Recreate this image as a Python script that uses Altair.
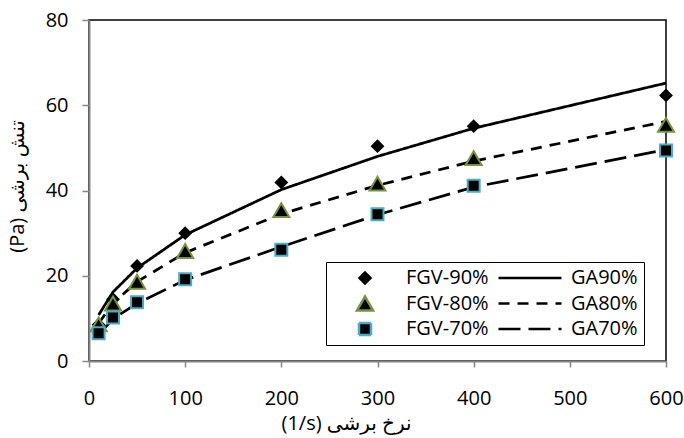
import altair as alt
import pandas as pd

# ---- data ----
shear_rate = [10, 25, 50, 100, 200, 300, 400, 600]

fgv90 = [8.5, 14.5, 22.3, 30.0, 41.9, 50.4, 55.1, 62.3]
fgv80 = [8.6, 13.5, 18.6, 25.8, 35.4, 41.6, 47.6, 55.4]
fgv70 = [6.5, 10.2, 13.8, 19.2, 26.1, 34.4, 41.1, 49.4]

ga90 = [10.8, 16.2, 21.8, 29.6, 40.2, 48.0, 54.6, 65.2]
ga80 = [8.8, 13.6, 18.6, 25.4, 34.5, 41.2, 46.9, 56.2]
ga70 = [6.2, 9.9, 13.5, 19.0, 26.8, 34.3, 40.8, 49.6]

point_series = ["FGV-90%", "FGV-80%", "FGV-70%"]
line_series = ["GA90%", "GA80%", "GA70%"]
# the legend grid is filled column by column
legend_order = point_series + line_series

x_ticks = [0, 100, 200, 300, 400, 500, 600]
y_ticks = [0, 20, 40, 60, 80]

x_title = "(1/s) نرخ برشی"
y_title = "(Pa) تنش برشی"

# ---- tables ----
pts = pd.DataFrame(
    [
        {"x": xv, "y": yv, "series": s}
        for s, vals in zip(point_series, [fgv90, fgv80, fgv70])
        for xv, yv in zip(shear_rate, vals)
    ]
)
lns = pd.DataFrame(
    [
        {"x": xv, "y": yv, "series": s}
        for s, vals in zip(line_series, [ga90, ga80, ga70])
        for xv, yv in zip(shear_rate, vals)
    ]
)

FONT = "Open Sans, DejaVu Sans, sans-serif"
FS = 20
LINE_PATH = "M-1,0H1"

shape_scale = alt.Scale(
    domain=legend_order,
    range=["diamond", "triangle-up", "square", LINE_PATH, LINE_PATH, LINE_PATH],
)
size_scale = alt.Scale(
    type="ordinal", domain=legend_order, range=[121, 256, 144, 3969, 3969, 3969]
)
fill_scale = alt.Scale(
    domain=legend_order,
    range=["black", "black", "black", "transparent", "transparent", "transparent"],
)
stroke_scale = alt.Scale(
    domain=legend_order,
    range=["black", "#77933C", "#4BACC6", "black", "black", "black"],
)
dash_scale = alt.Scale(
    domain=legend_order,
    range=[[1, 0], [1, 0], [1, 0], [1, 0], [11, 8], [22, 8]],
)

legend = alt.Legend(
    title=None,
    orient="none",
    legendX=237,
    legendY=242,
    columns=2,
    columnPadding=8,
    rowPadding=5.5,
    clipHeight=20,
    labelFont=FONT,
    labelFontSize=FS,
    labelColor="black",
    labelOffset=8,
    labelLimit=0,
    symbolStrokeWidth=2.5,
    padding=6,
    strokeColor="black",
    fillColor="white",
    labelExpr="indexof(datum.label, 'GA') === 0 ? datum.label + '\u00a0\u00a0' : datum.label",
)

x_enc = alt.X(
    "x:Q",
    scale=alt.Scale(domain=[0, 600], nice=False, zero=False),
    axis=alt.Axis(
        values=x_ticks,
        format="d",
        grid=False,
        domainColor="#868686",
        domainWidth=2,
        tickColor="#868686",
        tickWidth=1.5,
        tickSize=6,
        labelPadding=21,
        labelFont=FONT,
        labelFontSize=FS,
        labelColor="black",
        labelFlush=False,
        title=x_title,
        titleFont=FONT,
        titleFontSize=FS,
        titleFontWeight="normal",
        titleColor="black",
        titleX=257,
        titleY=62,
        titleAlign="center",
        titleBaseline="middle",
    ),
)
y_enc = alt.Y(
    "y:Q",
    scale=alt.Scale(domain=[0, 80], nice=False),
    axis=alt.Axis(
        values=y_ticks,
        grid=False,
        domainColor="#868686",
        domainWidth=2,
        tickColor="#868686",
        tickWidth=1.5,
        tickSize=7,
        labelPadding=14,
        labelFont=FONT,
        labelFontSize=FS,
        labelColor="black",
        labelFlush=False,
        title=y_title,
        titleFont=FONT,
        titleFontSize=FS,
        titleFontWeight="normal",
        titleColor="black",
        titleAngle=270,
        titleX=-72,
        titleY=166,
        titleAlign="center",
        titleBaseline="middle",
    ),
)

lines = alt.Chart(lns).mark_line(strokeWidth=2.75).encode(
    x=x_enc,
    y=y_enc,
    stroke=alt.Stroke("series:N", scale=stroke_scale, legend=legend),
    strokeDash=alt.StrokeDash("series:N", scale=dash_scale, legend=legend),
)

points = alt.Chart(pts).mark_point(filled=True, opacity=1, strokeWidth=2).encode(
    x=x_enc,
    y=y_enc,
    shape=alt.Shape("series:N", scale=shape_scale, legend=legend),
    size=alt.Size("series:N", scale=size_scale, legend=legend),
    fill=alt.Fill("series:N", scale=fill_scale, legend=legend),
    stroke=alt.Stroke("series:N", scale=stroke_scale, legend=legend),
)

chart = (
    alt.layer(lines, points)
    .properties(
        width=577,
        height=341,
        autosize=alt.AutoSizeParams(type="none"),
        padding={"left": 89, "top": 20, "right": 18, "bottom": 77},
        background="white",
    )
    .configure_view(stroke="black", strokeWidth=1.5)
)

chart.save("out.html", embed_options={"renderer": "svg", "actions": False})
